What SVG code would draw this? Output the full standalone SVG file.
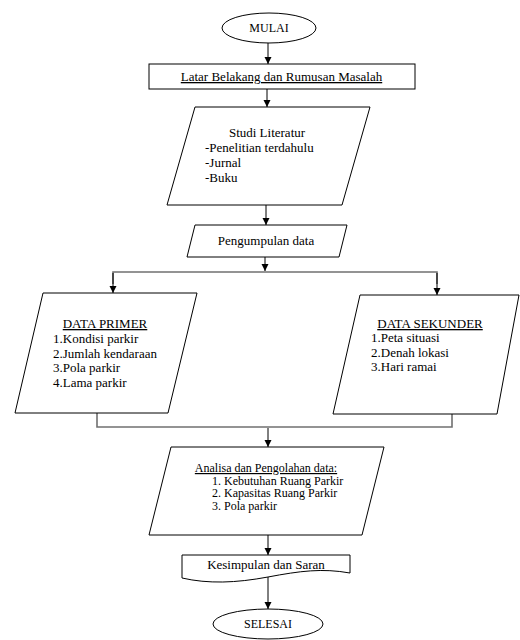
<svg xmlns="http://www.w3.org/2000/svg" width="520" height="640" viewBox="0 0 520 640">
<style>
.s{fill:#fff;stroke:#000;stroke-width:1}
.t{font-family:"Liberation Serif","Times New Roman","DejaVu Serif",serif;font-size:13px;fill:#000}
.m{text-anchor:middle}
.u{text-decoration:underline}
.sm{font-size:12px}
.c{fill:none;stroke:#000;stroke-width:1}
.g{fill:none;stroke:#707070;stroke-width:1.6}
</style>
<defs>
<marker id="ah" markerUnits="userSpaceOnUse" markerWidth="8" markerHeight="8" refX="7" refY="4" orient="auto">
<path d="M0,0.5 L7,4 L0,7.5 z" fill="#000"/>
</marker>
</defs>
<g id="connectors">
<line class="c" x1="268" y1="42" x2="268" y2="64" marker-end="url(#ah)"/>
<line class="c" x1="267" y1="89" x2="267" y2="107" marker-end="url(#ah)"/>
<line class="c" x1="266" y1="205" x2="266" y2="225" marker-end="url(#ah)"/>
<line class="c" x1="265" y1="257" x2="265" y2="271" marker-end="url(#ah)"/>
<polyline class="g" points="113,284 113,272 437,272 437,284"/>
<line class="c" x1="113" y1="273" x2="113" y2="293" marker-end="url(#ah)"/>
<line class="c" x1="437" y1="273" x2="437" y2="295" marker-end="url(#ah)"/>
<polyline class="g" points="97,413 97,427 452,427 452,414"/>
<line class="c" x1="268" y1="428" x2="268" y2="447" marker-end="url(#ah)"/>
<line class="c" x1="268" y1="535" x2="268" y2="555" marker-end="url(#ah)"/>
<line class="c" x1="268" y1="577" x2="268" y2="609" marker-end="url(#ah)"/>
</g>
<g id="mulai">
<ellipse class="s" cx="269" cy="28" rx="47" ry="15"/>
<text class="t m sm" x="269" y="32">MULAI</text>
</g>
<g id="latar">
<rect class="s" x="149" y="64" width="266" height="25"/>
<text class="t m u" x="281.5" y="81">Latar Belakang dan Rumusan Masalah</text>
</g>
<g id="studi">
<polygon class="s" points="195,107 370,107 342,205 167,205"/>
<text class="t m" x="267" y="137">Studi Literatur</text>
<text class="t" x="205" y="152">-Penelitian terdahulu</text>
<text class="t" x="205" y="167">-Jurnal</text>
<text class="t" x="205" y="182">-Buku</text>
</g>
<g id="pengumpulan">
<polygon class="s" points="195,225 347,225 339,257 187,257"/>
<text class="t m" x="266" y="245">Pengumpulan data</text>
</g>
<g id="primer">
<polygon class="s" points="43,293 197,293 168,413 15,413"/>
<text class="t m u" x="105" y="328">DATA PRIMER</text>
<text class="t" x="53" y="343">1.Kondisi parkir</text>
<text class="t" x="53" y="358">2.Jumlah kendaraan</text>
<text class="t" x="53" y="372">3.Pola parkir</text>
<text class="t" x="53" y="387">4.Lama parkir</text>
</g>
<g id="sekunder">
<polygon class="s" points="360,295 519,295 497,414 333,414"/>
<text class="t m u" x="430" y="328">DATA SEKUNDER</text>
<text class="t" x="371" y="342">1.Peta situasi</text>
<text class="t" x="371" y="357">2.Denah lokasi</text>
<text class="t" x="371" y="371">3.Hari ramai</text>
</g>
<g id="analisa">
<polygon class="s" points="171,447 384,447 362,535 149,535"/>
<text class="t m u sm" x="266" y="472">Analisa dan Pengolahan data:</text>
<text class="t sm" x="212" y="484.5">1.</text>
<text class="t sm" x="224" y="484.5">Kebutuhan Ruang Parkir</text>
<text class="t sm" x="212" y="497">2.</text>
<text class="t sm" x="224" y="497">Kapasitas Ruang Parkir</text>
<text class="t sm" x="212" y="509.5">3.</text>
<text class="t sm" x="224" y="509.5">Pola parkir</text>
</g>
<g id="kesimpulan">
<path class="s" d="M182,555 H350 V573 C322,568 300,571 268,577 C236,583 208,584 182,578 Z"/>
<text class="t m" x="266" y="569">Kesimpulan dan Saran</text>
</g>
<g id="selesai">
<ellipse class="s" cx="268" cy="624" rx="55" ry="15"/>
<text class="t m sm" x="268" y="628">SELESAI</text>
</g>
</svg>
